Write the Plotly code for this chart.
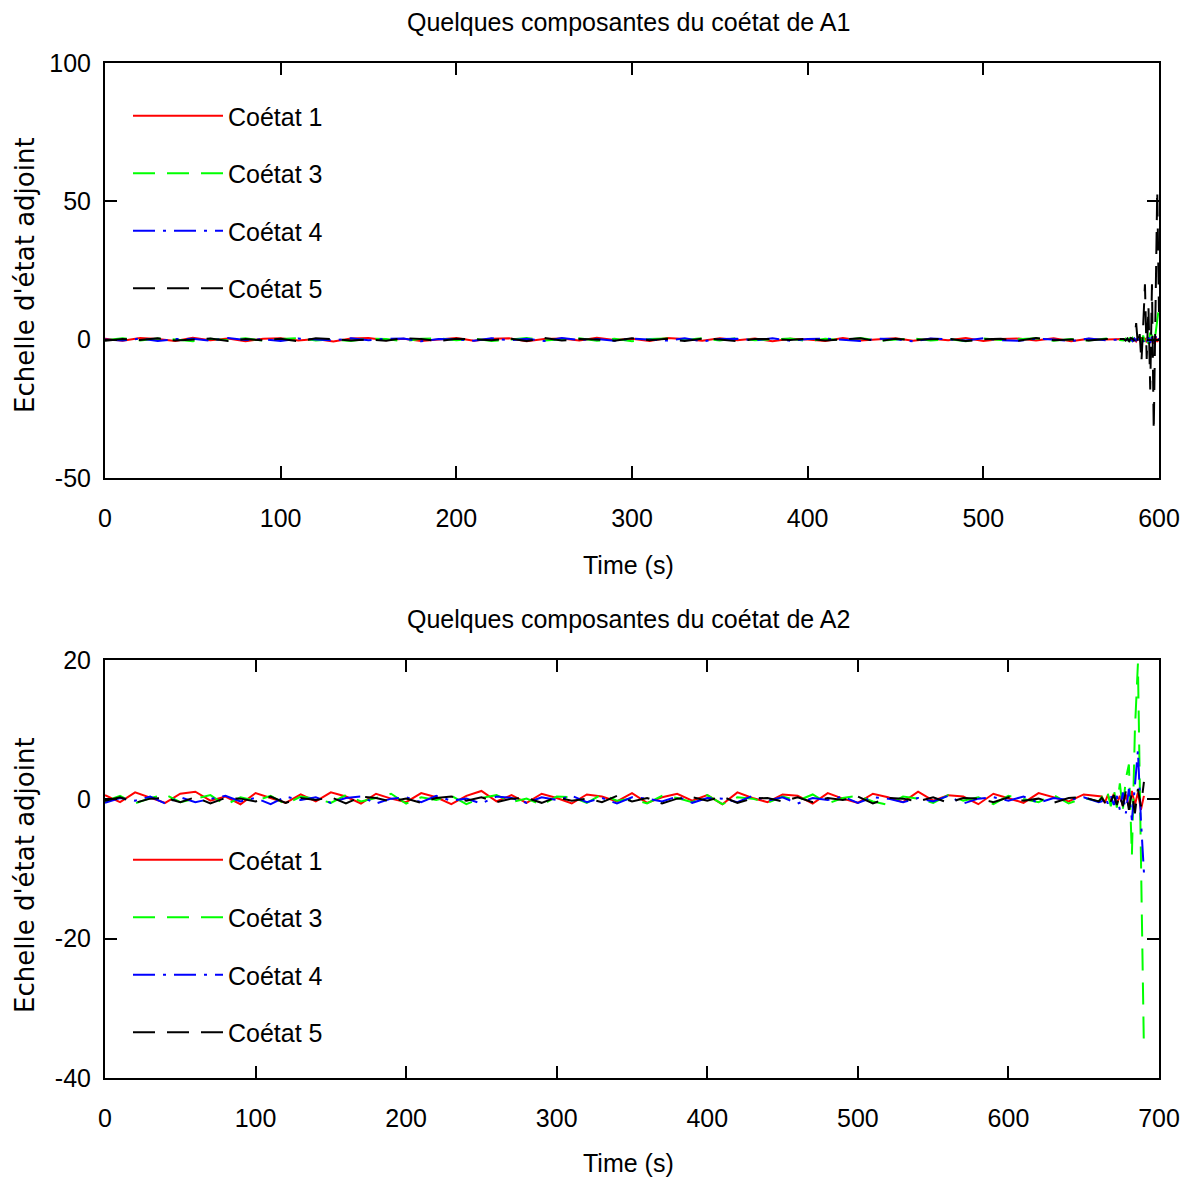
import plotly.graph_objects as go

# ---------------- data ----------------
t_top_main = [0, 10, 20, 30, 40, 50, 60, 70, 80, 90, 100, 110, 120, 130, 140, 150, 160, 170, 180, 190,
              200, 210, 220, 230, 240, 250, 260, 270, 280, 290, 300, 310, 320, 330, 340, 350, 360, 370, 380, 390,
              400, 410, 420, 430, 440, 450, 460, 470, 480, 490, 500, 510, 520, 530, 540, 550, 560, 570]
t_top_end = [580, 581, 582, 583, 584, 585, 586, 587, 588, 589, 590, 591, 592, 593, 594, 595, 596, 597, 598, 599, 600]

red_top_main = [0.3, -0.4, 0.6, 0.2, -0.5, 0.7, -0.2, 0.4, -0.6, 0.3,
                0.5, -0.3, 0.2, -0.7, 0.4, 0.6, -0.2, 0.3, -0.5, 0.1,
                0.6, -0.4, 0.3, 0.5, -0.6, 0.2, 0.4, -0.3, 0.7, -0.1,
                0.3, -0.5, 0.6, 0.2, -0.4, 0.5, -0.2, 0.4, -0.6, 0.3,
                0.1, -0.5, 0.6, -0.3, 0.2, 0.5, -0.4, 0.3, -0.2, 0.6,
                -0.5, 0.2, 0.4, -0.3, 0.5, -0.6, 0.3, 0.1]
green_top_main = [-0.2, 0.5, -0.3, 0.4, 0.1, -0.6, 0.3, -0.2, 0.5, -0.4,
                  0.2, 0.6, -0.3, 0.1, -0.5, 0.4, 0.2, -0.6, 0.3, 0.5,
                  -0.2, 0.4, -0.5, 0.1, 0.6, -0.3, 0.2, 0.5, -0.4, 0.3,
                  -0.6, 0.2, 0.4, -0.1, 0.5, -0.3, 0.6, -0.2, 0.1, 0.4,
                  -0.5, 0.3, -0.2, 0.6, -0.4, 0.1, 0.5, -0.3, 0.2, -0.6,
                  0.4, -0.1, 0.3, 0.5, -0.4, 0.2, -0.3, 0.4]
blue_top_main = [0.1, -0.3, 0.4, -0.5, 0.2, 0.3, -0.4, 0.6, -0.1, 0.2,
                 -0.5, 0.4, 0.1, -0.3, 0.5, -0.2, 0.3, 0.4, -0.6, 0.2,
                 0.1, -0.4, 0.5, -0.2, 0.3, -0.5, 0.6, -0.1, 0.2, -0.4,
                 0.4, 0.1, -0.3, 0.5, -0.6, 0.2, 0.3, -0.2, 0.5, -0.4,
                 0.2, 0.4, -0.1, -0.5, 0.3, 0.2, -0.6, 0.4, 0.1, -0.3,
                 0.5, -0.2, -0.4, 0.3, 0.1, -0.5, 0.4, -0.2]
black_top_main = [-0.4, 0.2, -0.1, 0.5, -0.3, 0.1, 0.4, -0.5, 0.2, -0.2,
                  0.3, -0.6, 0.5, 0.2, -0.3, 0.1, -0.4, 0.6, 0.2, -0.5,
                  0.3, 0.1, -0.2, 0.4, -0.5, 0.6, -0.3, 0.2, 0.1, -0.4,
                  0.5, -0.2, 0.3, -0.5, 0.4, 0.1, -0.6, 0.2, 0.3, -0.1,
                  0.4, -0.3, 0.2, 0.5, -0.6, 0.3, -0.1, 0.2, 0.4, -0.5,
                  0.1, 0.3, -0.4, 0.6, -0.2, 0.1, -0.3, 0.2]

red_top_end = [0.2, -0.3, 0.4, -0.2, 0.5, -0.4, 0.3, -0.6, 0.5, -0.3, 0.8,
               -0.7, 0.6, -1.0, 0.9, -1.2, 1.0, -1.5, 1.2, -0.8, 0.5]
green_top_end = [-0.3, 0.4, -0.2, 0.5, -0.4, 0.6, -0.5, 0.8, -0.6, 1.0, -1.2,
                 1.5, -1.0, 2.0, -1.5, 2.5, 1.5, 4.0, 2.0, 7.0, 12.0]
blue_top_end = [0.1, -0.2, 0.3, -0.4, 0.2, -0.5, 0.4, -0.3, 0.6, -0.5, 0.7,
                -0.8, 0.5, -1.0, 0.8, -1.2, 1.0, -1.5, 1.2, -1.0, 0.5]
black_top_end = [0.2, -0.3, 0.4, -0.5, 0.6, 0.3, -0.5, 6.0, -2.0, 2.0, -8.0,
                 5.0, 20.0, -7.0, 12.0, -18.0, 20.0, -33.0, 18.0, 54.0, 10.0]

t_bot_main = [0, 10, 20, 30, 40, 50, 60, 70, 80, 90, 100, 110, 120, 130, 140, 150, 160, 170, 180, 190,
              200, 210, 220, 230, 240, 250, 260, 270, 280, 290, 300, 310, 320, 330, 340, 350, 360, 370, 380, 390,
              400, 410, 420, 430, 440, 450, 460, 470, 480, 490, 500, 510, 520, 530, 540, 550, 560, 570, 580, 590,
              600, 610, 620, 630, 640, 650, 660]
t_bot_end = [662, 664, 666, 668, 670, 672, 674, 676, 678, 680, 682, 684, 686, 688, 690]

red_bot_main = [0.6, -0.4, 1.0, 0.3, -0.5, 0.8, 1.1, -0.2, 0.4, -0.7,
                0.9, 0.2, -0.5, 0.7, -0.3, 1.0, 0.4, -0.6, 0.8, 0.1,
                -0.4, 0.9, 0.3, -0.7, 0.5, 1.2, -0.3, 0.6, -0.5, 0.8,
                0.2, -0.6, 0.7, 0.4, -0.3, 0.9, -0.5, 0.3, 0.8, -0.2,
                0.6, -0.7, 1.0, 0.2, -0.4, 0.7, 0.5, -0.6, 0.9, 0.1,
                -0.5, 0.8, 0.3, -0.4, 1.1, -0.2, 0.6, 0.4, -0.7, 0.8,
                0.2, -0.5, 0.9, 0.3, -0.3, 0.7, 0.5]
green_bot_main = [-0.3, 0.5, -0.6, 0.2, 0.7, -0.4, 0.1, 0.6, -0.8, 0.3,
                  -0.2, 0.5, -0.7, 0.4, 0.1, -0.5, 0.6, -0.3, 0.2, 0.8,
                  -0.6, 0.3, -0.1, 0.5, -0.7, 0.2, 0.6, -0.4, 0.1, -0.8,
                  0.4, 0.3, -0.5, 0.7, -0.2, 0.1, -0.6, 0.5, 0.2, -0.4,
                  0.6, -0.7, 0.3, 0.1, -0.5, 0.4, -0.2, 0.7, -0.6, 0.2,
                  0.5, -0.3, -0.8, 0.4, 0.1, -0.5, 0.6, -0.2, 0.3, -0.7,
                  0.5, 0.1, -0.4, 0.6, -0.6, 0.2, -0.3]
blue_bot_main = [-0.5, 0.2, -0.2, 0.4, -0.6, 0.3, -0.4, 0.1, 0.5, -0.3,
                 0.2, -0.7, 0.4, -0.1, 0.3, -0.5, 0.2, 0.4, -0.6, 0.1,
                 0.3, -0.4, 0.5, -0.2, 0.1, -0.6, 0.4, 0.2, -0.5, 0.3,
                 -0.1, 0.5, -0.4, 0.2, -0.6, 0.3, 0.1, -0.3, 0.4, -0.5,
                 0.2, 0.1, -0.4, 0.5, -0.2, 0.3, -0.6, 0.2, -0.1, 0.4,
                 -0.5, 0.3, 0.1, -0.4, 0.2, -0.3, 0.5, -0.6, 0.1, 0.3,
                 -0.2, 0.4, -0.5, 0.2, -0.1, 0.3, -0.4]
black_bot_main = [-0.2, 0.3, -0.5, 0.1, 0.2, -0.4, 0.3, -0.6, 0.2, 0.1,
                  -0.3, 0.4, -0.5, 0.2, -0.1, 0.3, -0.6, 0.4, 0.2, -0.3,
                  0.1, -0.5, 0.2, 0.4, -0.2, 0.3, -0.4, 0.1, 0.2, -0.5,
                  0.3, -0.2, 0.1, -0.4, 0.5, -0.3, 0.2, -0.6, 0.1, 0.3,
                  -0.2, 0.4, -0.5, 0.1, 0.2, -0.3, 0.3, -0.4, 0.2, -0.1,
                  0.4, -0.6, 0.2, 0.1, -0.3, 0.3, -0.5, 0.2, 0.1, -0.4,
                  0.3, -0.2, 0.1, -0.5, 0.2, 0.3, -0.3]

red_bot_end = [0.4, -0.5, 0.6, -0.3, 0.8, -0.6, 0.5, -0.9, 0.7, -1.0, 1.2, -0.8, 1.0, -1.5, 0.5]
green_bot_end = [0.3, -0.5, 0.8, -1.0, 1.5, -1.2, 2.3, -1.5, 3.0, 5.0, -8.0, 10.0, 19.5, -10.0, -36.0]
blue_bot_end = [-0.3, 0.4, -0.6, 0.5, -0.8, 0.5, -1.5, 1.0, -2.0, 1.5, -3.0, 2.0, 7.0, -3.0, -10.5]
black_bot_end = [0.2, -0.4, 0.5, -0.3, 0.6, -0.8, 0.7, -1.0, 1.2, -1.5, 1.0, -2.0, 1.5, -1.0, 2.5]

series_names = ["Coétat 1", "Coétat 3", "Coétat 4", "Coétat 5"]
titles = ["Quelques composantes du coétat de A1", "Quelques composantes du coétat de A2"]
x_label = "Time (s)"
y_label = "Echelle d'état adjoint"
top_xticks = [0, 100, 200, 300, 400, 500, 600]
top_yticks = [-50, 0, 50, 100]
bot_xticks = [0, 100, 200, 300, 400, 500, 600, 700]
bot_yticks = [-40, -20, 0, 20]

# ---------------- style ----------------
colors = ["#ff0000", "#00ff00", "#0000ff", "#000000"]
dashes = ["solid", "22px,12px", "22px,8px,3px,8px", "22px,12px"]
FONT = "Liberation Sans, Arial, sans-serif"
FS = 25
OFF = 8            # page body margin of the html page
W, H = 1190 - OFF, 1182 - OFF


def px(xp):
    return (xp - OFF) / W


def py(yp):
    return 1 - (yp - OFF) / H


top_t = t_top_main + t_top_end
bot_t = t_bot_main + t_bot_end
top_series = [red_top_main + red_top_end, green_top_main + green_top_end,
              blue_top_main + blue_top_end, black_top_main + black_top_end]
bot_series = [red_bot_main + red_bot_end, green_bot_main + green_bot_end,
              blue_bot_main + blue_bot_end, black_bot_main + black_bot_end]

fig = go.Figure()
for i, ys in enumerate(top_series):
    fig.add_trace(go.Scatter(x=top_t, y=ys, mode="lines", name=series_names[i],
                             line=dict(color=colors[i], width=2, dash=dashes[i]),
                             xaxis="x", yaxis="y", legend="legend", legendgroup="a%d" % i))
for i, ys in enumerate(bot_series):
    fig.add_trace(go.Scatter(x=bot_t, y=ys, mode="lines", name=series_names[i],
                             line=dict(color=colors[i], width=2, dash=dashes[i]),
                             xaxis="x2", yaxis="y2", legend="legend2", legendgroup="b%d" % i))

xd = [px(105), px(1159)]
axis_common = dict(showline=True, linecolor="black", linewidth=2, mirror="allticks",
                   ticks="inside", ticklen=12, tickwidth=2, tickcolor="black",
                   showgrid=False, zeroline=False, automargin=False,
                   tickfont=dict(family=FONT, size=FS, color="black"))

legend_common = dict(xanchor="left", yanchor="top", bgcolor="rgba(0,0,0,0)", borderwidth=0,
                     itemwidth=90, font=dict(family=FONT, size=FS, color="black"),
                     tracegroupgap=22, itemclick=False, itemdoubleclick=False)

fig.update_layout(
    width=W, height=H, margin=dict(l=0, r=0, t=0, b=0, autoexpand=False),
    paper_bgcolor="white", plot_bgcolor="white", showlegend=True,
    xaxis=dict(domain=xd, range=[0, 600], tickvals=top_xticks,
               ticktext=[str(v) for v in top_xticks], anchor="y",
               ticklabelstandoff=17, **axis_common),
    yaxis=dict(domain=[py(478), py(63)], range=[-50, 100], tickvals=top_yticks,
               ticktext=[str(v) for v in top_yticks], anchor="x",
               ticklabelstandoff=7, **axis_common),
    xaxis2=dict(domain=xd, range=[0, 700], tickvals=bot_xticks,
                ticktext=[str(v) for v in bot_xticks], anchor="y2",
                ticklabelstandoff=17, **axis_common),
    yaxis2=dict(domain=[py(1078), py(660)], range=[-40, 20], tickvals=bot_yticks,
                ticktext=[str(v) for v in bot_yticks], anchor="x2",
                ticklabelstandoff=7, **axis_common),
    legend=dict(x=px(128), y=py(93), **legend_common),
    legend2=dict(x=px(128), y=py(837), **legend_common),
)

ann = []
for title, yc in zip(titles, [22, 619]):
    ann.append(dict(text=title, x=px(628), y=py(yc), xref="paper", yref="paper",
                    showarrow=False, xanchor="center", yanchor="middle",
                    font=dict(family=FONT, size=FS, color="black")))
for yc in [565, 1163]:
    ann.append(dict(text=x_label, x=px(628), y=py(yc), xref="paper", yref="paper",
                    showarrow=False, xanchor="center", yanchor="middle",
                    font=dict(family=FONT, size=FS, color="black")))
for yc in [275, 875]:
    ann.append(dict(text=y_label, x=px(25), y=py(yc), xref="paper", yref="paper",
                    showarrow=False, xanchor="center", yanchor="middle", textangle=-90,
                    font=dict(family="DejaVu Sans, sans-serif", size=26, color="black")))
fig.update_layout(annotations=ann)

fig.write_html("out.html")
